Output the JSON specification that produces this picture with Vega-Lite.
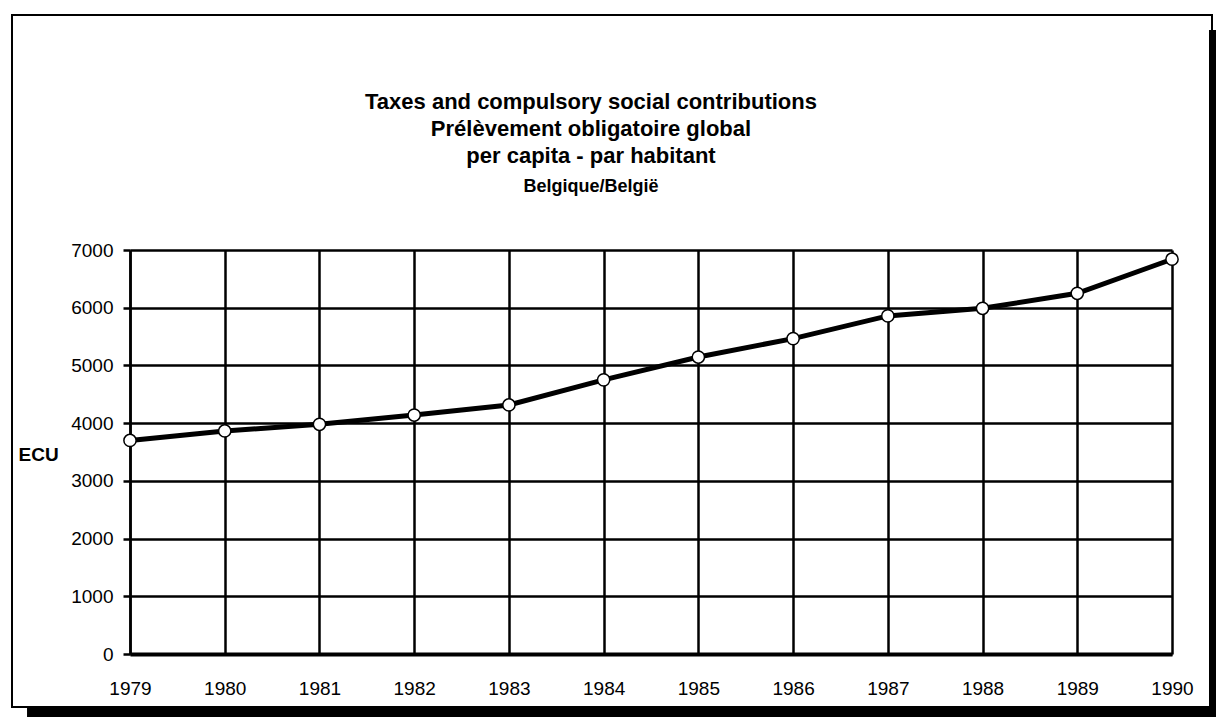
{
  "$schema": "https://vega.github.io/schema/vega-lite/v6.json",
  "width": 1042,
  "height": 404,
  "autosize": {"type": "none"},
  "padding": {"left": 130, "top": 250, "right": 44, "bottom": 63},
  "background": "white",
  "config": {
    "font": "Liberation Sans",
    "view": {"stroke": null},
    "axis": {
      "grid": true,
      "gridColor": "black",
      "gridOpacity": 1,
      "gridWidth": 2.5,
      "domainColor": "black",
      "labelColor": "black",
      "labelFont": "Liberation Sans",
      "labelFontSize": 19,
      "titleColor": "black"
    }
  },
  "title": {
    "text": ["Taxes and compulsory social contributions", "Prélèvement obligatoire global", "per capita - par habitant"],
    "subtitle": "Belgique/België",
    "anchor": "middle",
    "dx": -60,
    "offset": -183,
    "font": "Liberation Sans",
    "fontSize": 22,
    "fontWeight": "bold",
    "lineHeight": 27,
    "color": "black",
    "subtitleFont": "Liberation Sans",
    "subtitleFontSize": 18,
    "subtitleFontWeight": "bold",
    "subtitleColor": "black",
    "subtitlePadding": 10
  },
  "datasets": {
    "series": [
      {"year": 1979, "ecu": 3700},
      {"year": 1980, "ecu": 3865},
      {"year": 1981, "ecu": 3980},
      {"year": 1982, "ecu": 4140},
      {"year": 1983, "ecu": 4315},
      {"year": 1984, "ecu": 4750},
      {"year": 1985, "ecu": 5145},
      {"year": 1986, "ecu": 5465},
      {"year": 1987, "ecu": 5858},
      {"year": 1988, "ecu": 5990},
      {"year": 1989, "ecu": 6250},
      {"year": 1990, "ecu": 6840}
    ]
  },
  "layer": [
    {
      "data": {"name": "series"},
      "mark": {"type": "line", "color": "black", "strokeWidth": 5},
      "encoding": {
        "x": {
          "field": "year",
          "type": "quantitative",
          "scale": {"domain": [1979, 1990], "nice": false, "zero": false},
          "axis": {
            "title": null,
            "grid": true,
            "values": [1979, 1980, 1981, 1982, 1983, 1984, 1985, 1986, 1987, 1988, 1989, 1990],
            "format": "d",
            "ticks": false,
            "labelFontSize": 19,
            "labelPadding": 25,
            "domainWidth": 4,
            "labelFlush": false
          }
        },
        "y": {
          "field": "ecu",
          "type": "quantitative",
          "scale": {"domain": [0, 7000], "nice": false},
          "axis": {
            "title": "ECU",
            "grid": true,
            "titleAngle": 0,
            "titleX": -112,
            "titleY": 204,
            "titleAlign": "left",
            "titleBaseline": "middle",
            "titleFontSize": 19,
            "titleFontWeight": "bold",
            "values": [0, 1000, 2000, 3000, 4000, 5000, 6000, 7000],
            "format": "d",
            "labelFontSize": 19,
            "tickSize": 7,
            "tickWidth": 2.5,
            "tickColor": "black",
            "labelPadding": 10,
            "domainWidth": 2.5
          }
        }
      }
    },
    {
      "data": {"values": [{}]},
      "mark": {"type": "rect", "fill": "black", "clip": false},
      "encoding": {
        "x": {"datum": 1977.913, "type": "quantitative"},
        "x2": {"datum": 1990.4645},
        "y": {"datum": -918, "type": "quantitative"},
        "y2": {"datum": -1092}
      }
    },
    {
      "data": {"values": [{}]},
      "mark": {"type": "rect", "fill": "black", "clip": false},
      "encoding": {
        "x": {"datum": 1990.3906, "type": "quantitative"},
        "x2": {"datum": 1990.4645},
        "y": {"datum": 10812, "type": "quantitative"},
        "y2": {"datum": -1092}
      }
    },
    {
      "data": {"values": [{}]},
      "mark": {"type": "rect", "fill": null, "stroke": "black", "strokeWidth": 2, "clip": false},
      "encoding": {
        "x": {"datum": 1977.7543, "type": "quantitative"},
        "x2": {"datum": 1990.4223},
        "y": {"datum": 11072, "type": "quantitative"},
        "y2": {"datum": -918}
      }
    },
    {
      "data": {"name": "series"},
      "mark": {"type": "point", "filled": true, "fill": "white", "stroke": "black", "strokeWidth": 1.5, "size": 150, "opacity": 1},
      "encoding": {
        "x": {"field": "year", "type": "quantitative"},
        "y": {"field": "ecu", "type": "quantitative"}
      }
    }
  ]
}
